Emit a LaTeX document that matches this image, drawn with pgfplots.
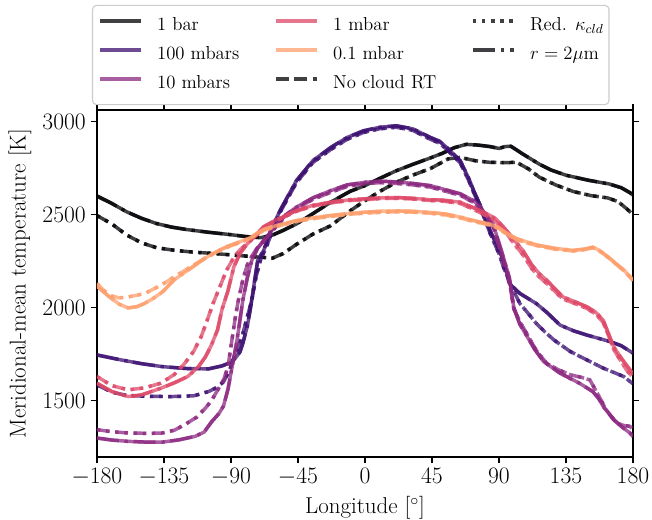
\RequirePackage{fix-cm}
\documentclass[border=0pt]{standalone}
\usepackage{pgfplots}
\usepackage{pgfplotstable}
\pgfplotsset{compat=1.18}
\definecolor{cA}{HTML}{000004}
\definecolor{cB}{HTML}{3B0F70}
\definecolor{cC}{HTML}{8C2981}
\definecolor{cD}{HTML}{DE4968}
\definecolor{cE}{HTML}{FE9F6D}

\pgfplotstableread{
x y
-180 2600
-170 2560
-160 2515
-150 2480
-140 2452
-130 2433
-120 2420
-105 2405
-90 2392
-80 2382
-70 2376
-62 2390
-55 2415
-46 2450
-35 2505
-23 2567
-10 2625
0 2656
10 2695
21 2736
32 2770
44 2805
52 2830
60 2860
68 2878
76 2874
84 2866
90 2856
94 2866
98 2868
106 2826
117 2772
125 2740
135 2712
150 2685
164 2665
172 2645
178 2618
180 2605
}\LAs
\pgfplotstableread{
x y
-180 2495
-170 2450
-160 2390
-150 2348
-140 2322
-128 2308
-115 2298
-100 2290
-85 2280
-69 2270
-62 2266
-55 2290
-46 2340
-35 2395
-23 2440
-10 2520
0 2575
10 2625
21 2674
32 2712
44 2748
50 2774
56 2800
64 2808
74 2790
84 2781
95 2780
102 2781
110 2745
117 2702
128 2660
140 2624
152 2602
163 2590
170 2570
176 2530
180 2500
}\LAd
\pgfplotstableread{
x y
-180 1745
-165 1720
-150 1698
-136 1682
-120 1672
-105 1670
-96 1686
-90 1705
-87 1729
-84 1760
-82 1808
-79 1900
-77 1990
-74 2150
-72 2254
-68 2308
-63 2420
-57 2522
-51 2610
-46 2683
-35 2790
-23 2861
-12 2915
-1 2951
10 2970
21 2978
32 2962
44 2915
50 2895
55 2861
64 2790
70 2690
73 2629
78 2540
84 2415
90 2310
93 2254
97 2129
104 2076
115 2022
122 1975
131 1906
140 1875
149 1852
165 1816
172 1795
180 1755
}\LBs
\pgfplotstableread{
x y
-180 1584
-170 1545
-160 1527
-145 1522
-130 1521
-115 1525
-105 1548
-100 1568
-95 1600
-91 1660
-88 1730
-85 1790
-82 1860
-79 1950
-76 2040
-73 2170
-70 2260
-66 2330
-62 2415
-57 2512
-51 2600
-46 2672
-35 2780
-23 2850
-12 2905
-1 2942
10 2962
21 2970
32 2954
44 2905
50 2885
55 2850
64 2778
70 2678
73 2618
78 2528
84 2400
90 2290
93 2218
98 2120
104 2022
110 1965
115 1915
121 1868
127 1825
138 1763
149 1718
160 1674
168 1648
174 1628
178 1602
180 1590
}\LBd
\pgfplotstableread{
x y
-180 1298
-170 1287
-159 1280
-147 1276
-136 1276
-125 1288
-114 1307
-108 1330
-103 1385
-98 1430
-95 1470
-92 1560
-89 1690
-86 1820
-82 2040
-79 2160
-76 2254
-72 2320
-68 2361
-60 2440
-53 2500
-46 2540
-35 2590
-23 2629
-12 2660
0 2674
10 2680
21 2676
32 2668
44 2656
55 2632
64 2612
73 2575
79 2522
86 2451
93 2270
97 2160
100 2000
104 1910
109 1843
114 1775
120 1709
131 1647
144 1593
153 1548
157 1510
160 1468
167 1397
173 1355
178 1325
180 1305
}\LCs
\pgfplotstableread{
x y
-180 1343
-170 1332
-159 1325
-145 1323
-136 1325
-128 1340
-121 1370
-113 1410
-107 1460
-103 1500
-99 1555
-95 1610
-92 1680
-90 1790
-87 1950
-85 2040
-82 2150
-79 2230
-75 2290
-71 2335
-68 2355
-60 2432
-53 2492
-46 2532
-35 2582
-23 2620
-12 2652
0 2666
10 2672
21 2668
32 2660
44 2648
55 2624
64 2604
73 2565
79 2510
86 2435
93 2250
97 2140
100 1990
104 1925
109 1855
115 1770
122 1700
130 1665
138 1638
145 1625
151 1611
156 1540
162 1450
169 1379
174 1365
178 1361
180 1345
}\LCd
\pgfplotstableread{
x y
-180 1593
-170 1548
-159 1521
-150 1530
-137 1566
-128 1595
-119 1629
-112 1680
-107 1736
-103 1800
-99 1880
-96 1990
-92 2090
-88 2220
-84 2290
-79 2343
-73 2392
-68 2435
-60 2470
-46 2522
-35 2550
-23 2567
-10 2580
0 2585
10 2590
21 2592
32 2588
44 2580
52 2578
64 2567
72 2540
77 2522
83 2500
88 2477
95 2415
100 2365
106 2308
112 2230
117 2183
122 2147
133 2057
140 2035
149 2004
155 1975
160 1932
164 1850
167 1789
173 1718
178 1665
180 1640
}\LDs
\pgfplotstableread{
x y
-180 1629
-170 1580
-159 1557
-148 1568
-137 1593
-128 1640
-121 1700
-115 1765
-110 1843
-106 1930
-102 2022
-97 2120
-93 2200
-88 2270
-84 2310
-79 2345
-73 2388
-68 2430
-60 2466
-46 2518
-35 2546
-23 2563
-10 2576
0 2581
10 2586
21 2588
32 2584
44 2576
52 2573
64 2560
72 2532
77 2512
83 2488
88 2462
95 2400
100 2345
106 2285
112 2210
117 2165
122 2130
133 2045
140 2025
149 1995
155 1965
160 1920
164 1840
167 1775
172 1710
176 1660
180 1625
}\LDd
\pgfplotstableread{
x y
-180 2115
-172 2060
-165 2018
-159 1998
-153 2005
-148 2022
-142 2050
-136 2084
-128 2150
-119 2200
-108 2263
-100 2300
-92 2330
-78 2372
-68 2420
-60 2440
-46 2468
-35 2483
-23 2495
-10 2507
0 2513
10 2518
21 2520
32 2518
44 2512
55 2502
65 2485
73 2468
84 2448
90 2430
95 2400
102 2370
110 2350
117 2334
128 2318
140 2308
148 2315
153 2325
157 2310
162 2281
168 2240
174 2200
180 2150
}\LEs
\pgfplotstableread{
x y
-180 2129
-175 2090
-170 2062
-165 2052
-159 2057
-148 2075
-137 2120
-128 2165
-121 2200
-108 2262
-100 2297
-92 2326
-78 2368
-68 2415
-60 2435
-46 2463
-35 2478
-23 2490
-10 2502
0 2508
10 2512
21 2515
32 2513
44 2507
55 2497
65 2480
73 2463
84 2443
90 2425
95 2395
102 2365
110 2345
117 2330
128 2314
140 2304
148 2312
153 2322
157 2307
162 2278
168 2238
174 2198
180 2145
}\LEd

\tikzset{
  sl/.style={line width=2.5pt, draw opacity=0.75, line join=round, solid},
  dl/.style={line width=2.5pt, draw opacity=0.75, line join=round, dash pattern=on 9.25pt off 4pt},
  ol/.style={line width=2.5pt, draw opacity=0.75, line join=round, dash pattern=on 2.5pt off 4.1pt},
  ddl/.style={line width=2.5pt, draw opacity=0.75, line join=round, dash pattern=on 16pt off 4pt on 2.5pt off 4pt},
}

\begin{document}
\begin{tikzpicture}
\begin{axis}[
  name=ax,
  scale only axis, width=386pt, height=250pt,
  xmin=-180, xmax=180, ymin=1195, ymax=3063,
  xtick={-180,-135,-90,-45,0,45,90,135,180},
  ytick={1500,2000,2500,3000},
  scaled y ticks=false,
  yticklabel style={/pgf/number format/.cd, fixed, 1000 sep={}},
  tick align=outside, major tick length=4.5pt,
  every tick/.style={black, line width=0.9pt},
  axis line style={line width=1.1pt},
  tick label style={font=\fontsize{17}{20}\selectfont},
  xlabel={Longitude [$^\circ$]},
  ylabel={Meridional-mean temperature [K]},
  every axis x label/.style={at={(axis description cs:0.5,-0.163)}, anchor=base, font=\fontsize{16.5}{20}\selectfont},
  every axis y label/.style={at={(axis description cs:-0.1436,0.5)}, rotate=90, anchor=center, font=\fontsize{16.5}{20}\selectfont},
  legend columns=3,
  legend cell align=left,
  legend image code/.code={\draw[#1] (0pt,3.6pt) -- (30pt,3.6pt);},
  legend style={at={(axis description cs:-0.0093,1.303)}, anchor=north west,
    draw=black!20, line width=0.8pt, rounded corners=3pt, fill=white,
    inner xsep=4pt, inner ysep=8.5pt,
    font=\fontsize{13.5}{16}\selectfont,
    nodes={inner sep=0pt, text height=9.5pt, text depth=3pt},
    row sep=8.5pt,
    /tikz/every odd column/.append style={column sep=10pt},
    /tikz/every even column/.append style={column sep=25pt}},
]
% legend (row-major order)
\addlegendimage{sl, cA, rounded corners=0pt}
\addlegendentry{1 bar}
\addlegendimage{sl, cD, rounded corners=0pt}
\addlegendentry{1 mbar}
\addlegendimage{ol, cA, rounded corners=0pt}
\addlegendentry{Red. $\kappa_{cld}$}
\addlegendimage{sl, cB, rounded corners=0pt}
\addlegendentry{100 mbars}
\addlegendimage{sl, cE, rounded corners=0pt}
\addlegendentry{0.1 mbar}
\addlegendimage{ddl, cA, rounded corners=0pt}
\addlegendentry{$r=2\mu$m}
\addlegendimage{sl, cC, rounded corners=0pt}
\addlegendentry{10 mbars}
\addlegendimage{dl, cA, rounded corners=0pt}
\addlegendentry{No cloud RT}

% 1 bar
\addplot[sl, cA, forget plot] table[x=x,y=y] {\LAs};
\addplot[ddl, cA, forget plot] table[x=x,y=y] {\LAs};
\addplot[dl, cA, forget plot] table[x=x,y=y] {\LAd};
\addplot[ol, cA, forget plot] table[x=x,y=y] {\LAd};
% 100 mbar
\addplot[sl, cB, forget plot] table[x=x,y=y] {\LBs};
\addplot[ddl, cB, forget plot] table[x=x,y=y] {\LBs};
\addplot[dl, cB, forget plot] table[x=x,y=y] {\LBd};
\addplot[ol, cB, forget plot] table[x=x,y=y] {\LBd};
% 10 mbar
\addplot[sl, cC, forget plot] table[x=x,y=y] {\LCs};
\addplot[ddl, cC, forget plot] table[x=x,y=y] {\LCs};
\addplot[dl, cC, forget plot] table[x=x,y=y] {\LCd};
\addplot[ol, cC, forget plot] table[x=x,y=y] {\LCd};
% 1 mbar
\addplot[sl, cD, forget plot] table[x=x,y=y] {\LDs};
\addplot[ddl, cD, forget plot] table[x=x,y=y] {\LDs};
\addplot[dl, cD, forget plot] table[x=x,y=y] {\LDd};
\addplot[ol, cD, forget plot] table[x=x,y=y] {\LDd};
% 0.1 mbar
\addplot[sl, cE, forget plot] table[x=x,y=y] {\LEs};
\addplot[ddl, cE, forget plot] table[x=x,y=y] {\LEs};
\addplot[dl, cE, forget plot] table[x=x,y=y] {\LEd};
\addplot[ol, cE, forget plot] table[x=x,y=y] {\LEd};
\end{axis}
\pgfresetboundingbox
\path ([xshift=-69.8pt,yshift=-45pt]ax.south west) rectangle ([xshift=13.7pt,yshift=79.2pt]ax.north east);
\end{tikzpicture}
\end{document}
